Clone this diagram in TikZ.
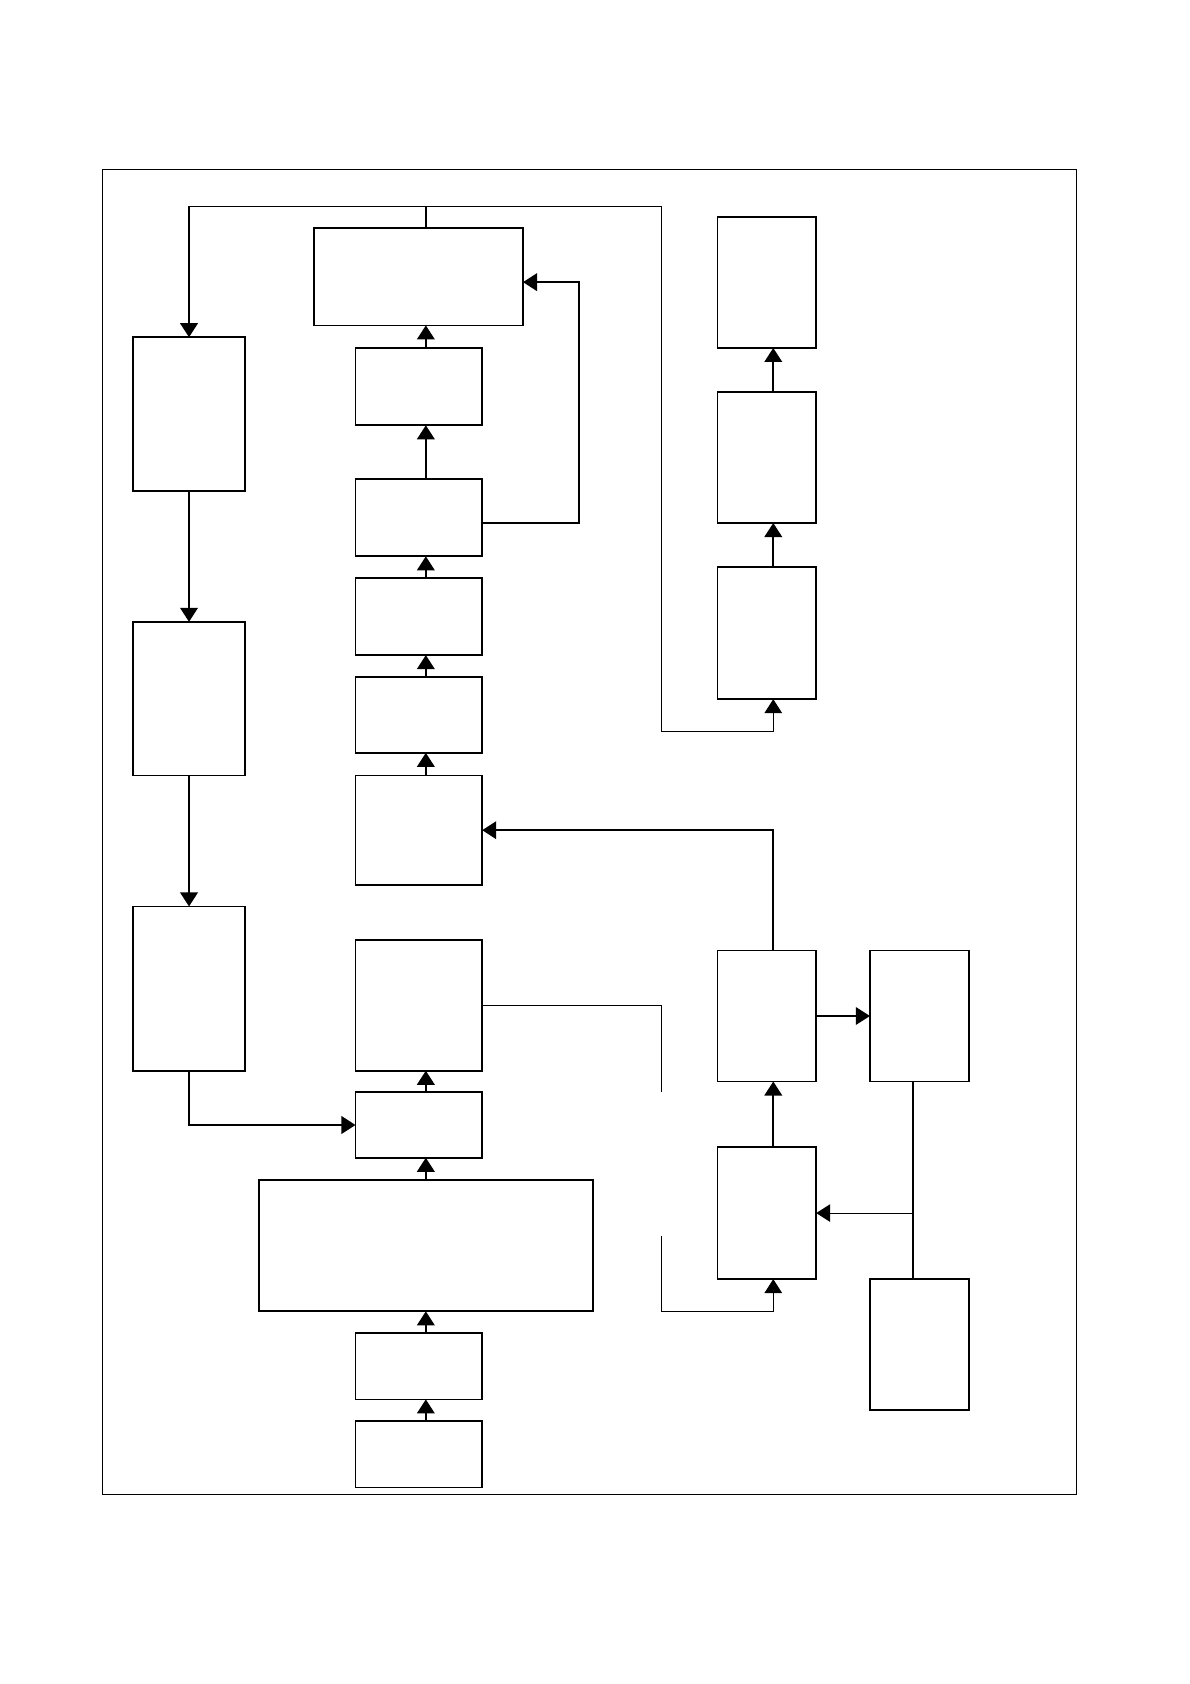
\documentclass[tikz,border=0pt]{standalone}
\usetikzlibrary{arrows.meta}
\tikzset{
  % plain empty block, size in picture units
  blk/.style 2 args={rectangle,draw,line width=0.9pt,
    inner sep=0pt,outer sep=0pt,
    minimum width=#1*0.537pt,minimum height=#2*0.537pt},
  % Arrows and plain lines
  arr/.style={-{Triangle[length=7pt,width=8.8pt]},line width=0.9pt},
  arrt/.style={-{Triangle[length=7pt,width=8.8pt]},line width=0.55pt},
  ln/.style={line width=0.9pt},
  lnt/.style={line width=0.55pt},
}
\begin{document}
\begin{tikzpicture}[x=0.537pt,y=-0.537pt]
  \useasboundingbox (0,0) rectangle (1108,1568);
  \draw[line width=0.5pt] (95,158) rectangle (1002,1392);

  % middle column
  \node[blk={195}{91}]  (A)  at (389.5,257.5) {};
  \node[blk={118}{72}]  (M1) at (390,360) {};
  \node[blk={118}{72}]  (M2) at (390,482) {};
  \node[blk={118}{72}]  (M3) at (390,574) {};
  \node[blk={118}{71}]  (M4) at (390,665.5) {};
  \node[blk={118}{102}] (M5) at (390,773) {};
  \node[blk={118}{122}] (M6) at (390,936) {};
  \node[blk={118}{61}]  (M7) at (390,1047.5) {};
  \node[blk={311}{122}] (W)  at (396.5,1160) {};
  \node[blk={118}{62}]  (M8) at (390,1272) {};
  \node[blk={118}{62}]  (M9) at (390,1354) {};

  % left column
  \node[blk={104}{143}] (L1) at (176,385.5) {};
  \node[blk={104}{143}] (L2) at (176,650.5) {};
  \node[blk={104}{153}] (L3) at (176,920.5) {};

  % right columns
  \node[blk={92}{122}] (R1) at (714,263) {};
  \node[blk={92}{122}] (R2) at (714,426) {};
  \node[blk={92}{123}] (R3) at (714,589.5) {};
  \node[blk={92}{122}] (R4) at (714,946) {};
  \node[blk={92}{123}] (R5) at (714,1129.5) {};
  \node[blk={92}{122}] (S1) at (856,946) {};
  \node[blk={92}{122}] (S2) at (856,1252) {};

  \coordinate (rs) at (720,0);
  \coordinate (ss) at (850,0);
  \coordinate (tl) at (176,192);
  \coordinate (tr) at (616,192);
  \coordinate (rb) at (720,681);
  \coordinate (g1) at (616,1017);
  \coordinate (g2) at (616,1151);
  \coordinate (g3) at (720,1221);

  \foreach \from/\to in {M9/M8,M8/W,W/M7,M7/M6,M5/M4,M4/M3,M3/M2,M2/M1,M1/A}
    \draw[arr] (\from.north -| W) -- (\to.south -| W);

  \draw[arr] (L1) -- (L2);
  \draw[arr] (L2) -- (L3);
  \draw[arr] (L3.south) |- (M7.west);

  \draw[ln] (A.north -| W) -- (W |- tl);
  \draw[lnt] (tr) -- (tl);
  \draw[arr] (tl) -- (L1.north);
  \draw[arrt] (tr) |- (rb) -- (rs |- R3.south);

  \draw[arr] ([yshift=-2.7pt]M2.east) -- ++(90,0) |- ([yshift=-2.8pt]A.east);

  \draw[arr] (rs |- R3.north) -- (rs |- R2.south);
  \draw[arr] (rs |- R2.north) -- (rs |- R1.south);

  \draw[arr] (rs |- R4.north) |- (M5.east);
  \draw[arrt] (R4.east) -- (S1.west);
  \draw[arr] (rs |- R5.north) -- (rs |- R4.south);
  \draw[ln] (ss |- S1.south) -- (ss |- S2.north);
  \draw[arrt] (ss |- R5.east) -- (R5.east);

  \draw[lnt] (M6.east) -| (g1);
  \draw[arrt] (g2) |- (g3) -- (rs |- R5.south);
\end{tikzpicture}
\end{document}
